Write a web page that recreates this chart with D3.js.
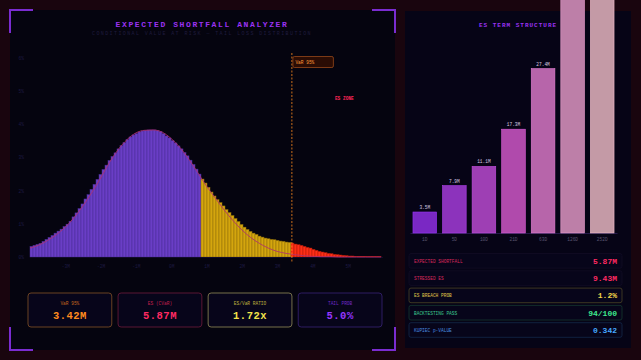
<!DOCTYPE html>
<html>
<head>
<meta charset="utf-8">
<script src="https://d3js.org/d3.v7.min.js"></script>
<style>
html,body{margin:0;padding:0;background:#19050e;overflow:hidden;}
svg{display:block;font-family:"Liberation Mono","DejaVu Sans Mono",monospace;}
</style>
</head>
<body>
<div id="chart"></div>
<script>
// loss distribution histogram ($M), bins start at -4.0, width 0.085
var binStart = -4.0;
var binWidth = 0.085;
var lossFreq = [
   0.32,0.35,0.38,0.41,0.47,0.53,0.59,0.65,0.72,0.78,
   0.84,0.92,0.99,1.08,1.21,1.33,1.46,1.60,1.75,1.88,
   2.04,2.19,2.34,2.49,2.64,2.77,2.91,3.03,3.14,3.26,
   3.36,3.45,3.54,3.62,3.68,3.72,3.77,3.80,3.82,3.83,
   3.83,3.83,3.81,3.78,3.72,3.65,3.59,3.51,3.44,3.35,
   3.26,3.15,3.05,2.92,2.79,2.65,2.50,2.35,2.23,2.10,
   1.96,1.84,1.73,1.64,1.54,1.43,1.34,1.25,1.16,1.07,
   0.98,0.90,0.83,0.77,0.72,0.68,0.63,0.60,0.57,0.55,
   0.53,0.52,0.50,0.48,0.47,0.45,0.44,0.42,0.39,0.37,
   0.35,0.32,0.29,0.27,0.23,0.20,0.17,0.15,0.13,0.11,
   0.10,0.08,0.07,0.06,0.05,0.04,0.03,0.03,0.02,0.02,
   0.02,0.02,0.01,0.01,0.01,0.01,0.01
];
// normal fit overlay
var fitLoss = [-4.0,-3.75,-3.5,-3.25,-3.0,-2.75,-2.5,-2.25,-2.0,-1.75,-1.5,-1.25,-1.0,-0.75,-0.5,-0.25,
   0.0,0.25,0.5,0.75,1.0,1.25,1.5,1.75,2.0,2.25,2.5,2.75,3.0,3.25,3.5,3.75,4.0,4.25,4.5,4.75,5.0,5.25,5.5,5.75,5.95];
var fitFreq = [0.27,0.36,0.50,0.68,0.90,1.19,1.54,1.94,2.38,2.85,3.24,3.54,3.74,3.82,3.83,3.76,
   3.57,3.30,2.95,2.55,2.14,1.78,1.42,1.10,0.82,0.59,0.41,0.27,0.17,0.11,0.07,0.04,0.02,0.01,0.01,0,0,0,0,0,0];
var varLevel = 3.42;
var warnLevel = 0.88;
var yTicks = [0,1,2,3,4,5,6];
var xTicks = [-3,-2,-1,0,1,2,3,4,5];

var kpiLabels = ["VaR 95%","ES (CVaR)","ES/VaR RATIO","TAIL PROB"];
var kpiValues = ["3.42M","5.87M","1.72x","5.0%"];

var horizons = ["1D","5D","10D","21D","63D","126D","252D"];
var esByHorizon = [3.5,7.9,11.1,17.3,27.4,39.3,55.6];

var statLabels = ["EXPECTED SHORTFALL","STRESSED ES","ES BREACH PROB","BACKTESTING PASS","KUPIEC p-VALUE"];
var statValues = ["5.87M","9.43M","1.2%","94/100","0.342"];

// styles
var kpiColors = ["#ff8a1e","#ff2a62","#f4e44a","#9636ff"];
var kpiBorders = ["#6a4222","#5a1634","#77704a","#2e1c62"];
var statColors = ["#ff2a62","#ff2a62","#f2d44a","#3ee88e","#46a8ff"];
var statLabelColors = ["#d8285a","#d8285a","#e0c64a","#3cc890","#4a8ee0"];
var statBorders = ["#120c24","#120c24","#4a4226","#15372f","#14284a"];

var W = 641, H = 360;
var svg = d3.select("#chart").append("svg").attr("width",W).attr("height",H);

// panels
svg.append("rect").attr("x",10).attr("y",10).attr("width",385).attr("height",340).attr("fill","#05040f");
svg.append("rect").attr("x",405).attr("y",11).attr("width",226).attr("height",337).attr("fill","#060416");

// corner brackets
var bracket = "#7a2cd0";
[[10,10,1,1],[395,10,-1,1],[10,350,1,-1],[395,350,-1,-1]].forEach(function(c){
   svg.append("path")
      .attr("d","M"+(c[0]+c[2]*23)+","+c[1]+" L"+c[0]+","+c[1]+" L"+c[0]+","+(c[1]+c[3]*23))
      .attr("fill","none").attr("stroke",bracket).attr("stroke-width",2);
});

// titles
svg.append("text").attr("x",202).attr("y",27).attr("text-anchor","middle")
   .attr("fill","#9a32f2").attr("font-size",8).attr("font-weight","bold").attr("letter-spacing",1.6)
   .text("EXPECTED SHORTFALL ANALYZER");
svg.append("text").attr("x",202).attr("y",35).attr("text-anchor","middle")
   .attr("fill","#1f1b3e").attr("font-size",5).attr("letter-spacing",1.4)
   .text("CONDITIONAL VALUE AT RISK — TAIL LOSS DISTRIBUTION");

// histogram scales
var xScale = d3.scaleLinear().domain([binStart, binStart+binWidth*lossFreq.length]).range([30,381]);
var yScale = d3.scaleLinear().domain([0,6]).range([257,58]);
var binPx = xScale(binStart+binWidth)-xScale(binStart);

var gHist = svg.append("g");
gHist.append("g").attr("transform","translate(27,0)")
   .call(d3.axisLeft(yScale).tickValues(yTicks).tickSize(0).tickFormat(function(d){return d+"%";}))
   .call(function(g){g.select(".domain").remove();})
   .selectAll("text").attr("fill","#1e1a44").attr("font-size",4.5).attr("font-family","Liberation Mono");
gHist.append("g").attr("transform","translate(0,262)")
   .call(d3.axisBottom(xScale).tickValues(xTicks).tickSize(0).tickFormat(function(d){return d+"M";}))
   .call(function(g){g.select(".domain").remove();})
   .selectAll("text").attr("fill","#1e1a44").attr("font-size",4.5).attr("font-family","Liberation Mono");

function binColor(i){
   var c = binStart + (i+0.5)*binWidth;
   if (c >= varLevel) return "#ff2e16";
   if (c >= warnLevel) return "#d4a60e";
   return "#6a3ec6";
}
function binStroke(i){
   var c = binStart + (i+0.5)*binWidth;
   if (c >= varLevel) return "#a81808";
   if (c >= warnLevel) return "#8a6a08";
   return "#4a2c92";
}
gHist.selectAll(".bin").data(lossFreq).enter()
   .append("rect").attr("class","bin")
   .attr("x",function(d,i){return xScale(binStart+i*binWidth);})
   .attr("y",function(d){return yScale(d);})
   .attr("width",binPx)
   .attr("height",function(d){return yScale(0)-yScale(d);})
   .attr("fill",function(d,i){return binColor(i);})
   .attr("stroke",function(d,i){return binStroke(i);})
   .attr("stroke-width",0.5);

// baseline
gHist.append("line").attr("x1",30).attr("x2",383).attr("y1",257.5).attr("y2",257.5)
   .attr("stroke","#120c2a").attr("stroke-width",1);

// normal fit
var fitLine = d3.line()
   .x(function(d,i){return xScale(fitLoss[i]);})
   .y(function(d){return yScale(d);})
   .curve(d3.curveMonotoneX);
gHist.append("path").attr("d",fitLine(fitFreq))
   .attr("fill","none").attr("stroke","#b0306e").attr("stroke-opacity",0.85).attr("stroke-width",1);

// VaR marker
var vx = xScale(varLevel);
gHist.append("line").attr("x1",vx).attr("x2",vx).attr("y1",53).attr("y2",262)
   .attr("stroke","#ff8a1e").attr("stroke-width",0.8).attr("stroke-dasharray","2,1.5");
gHist.append("rect").attr("x",vx+1).attr("y",56.5).attr("width",40.5).attr("height",11).attr("rx",1.5)
   .attr("fill","#2a0c04").attr("stroke","#a8501c").attr("stroke-width",0.7);
gHist.append("text").attr("x",vx+3.5).attr("y",63.8).attr("fill","#ff9a3a")
   .attr("font-size",4.5).text("VaR 95%");
gHist.append("text").attr("x",vx+43).attr("y",100).attr("fill","#ff2456")
   .attr("font-size",4.5).attr("font-weight","bold").text("ES ZONE");

// KPI cards
var cardX = d3.scaleBand().domain(kpiLabels).range([28,382]).paddingInner(0.07);
var cards = svg.selectAll(".kpi").data(kpiLabels).enter().append("g").attr("class","kpi")
   .attr("transform",function(d){return "translate("+cardX(d)+",293)";});
cards.append("rect").attr("width",cardX.bandwidth()).attr("height",34).attr("rx",3)
   .attr("fill","#07051a").attr("stroke",function(d,i){return kpiBorders[i];}).attr("stroke-width",1);
cards.append("text").attr("x",cardX.bandwidth()/2).attr("y",11.5).attr("text-anchor","middle")
   .attr("font-size",4.5).attr("fill",function(d,i){return kpiColors[i];}).attr("fill-opacity",0.75)
   .text(function(d){return d;});
cards.append("text").attr("x",cardX.bandwidth()/2).attr("y",26).attr("text-anchor","middle")
   .attr("font-size",10.5).attr("font-weight","bold").attr("letter-spacing",0.5)
   .attr("fill",function(d,i){return kpiColors[i];})
   .text(function(d,i){return kpiValues[i];});

// ES term structure
svg.append("text").attr("x",518).attr("y",27).attr("text-anchor","middle")
   .attr("fill","#9a32f2").attr("font-size",6).attr("font-weight","bold").attr("letter-spacing",1)
   .text("ES TERM STRUCTURE");

var hx = d3.scaleBand().domain(horizons).range([410,617]).paddingInner(0.2).paddingOuter(0.1);
var hy = d3.scaleLinear().domain([0,35]).range([233,23]);
var barColor = d3.scaleLinear().domain([0,3,6]).range(["#7a28c4","#b04aac","#c49aa6"]);

svg.append("g").attr("transform","translate(0,233)")
   .call(d3.axisBottom(hx).tickSize(0).tickPadding(5))
   .call(function(g){g.select(".domain").attr("stroke","#241a4a");})
   .selectAll("text").attr("fill","#5a5470").attr("font-size",4.5).attr("font-family","Liberation Mono");

svg.selectAll(".hbar").data(esByHorizon).enter()
   .append("rect").attr("class","hbar")
   .attr("x",function(d,i){return hx(horizons[i]);})
   .attr("y",function(d){return hy(d);})
   .attr("width",hx.bandwidth())
   .attr("height",function(d){return hy(0)-hy(d);})
   .attr("fill",function(d,i){return barColor(i);})
   .attr("stroke",function(d,i){return d3.color(barColor(i)).brighter(0.6);})
   .attr("stroke-width",0.6);
// value labels (the tallest bars run past the top edge, their labels with them)
svg.selectAll(".hlabel").data(esByHorizon.filter(function(d){return hy(d)-3 > 8;})).enter()
   .append("text").attr("class","hlabel")
   .attr("x",function(d,i){return hx(horizons[i])+hx.bandwidth()/2;})
   .attr("y",function(d){return hy(d)-3;})
   .attr("text-anchor","middle").attr("font-size",4.5).attr("fill","#d8c8e0")
   .text(function(d){return d.toFixed(1)+"M";});

// stats table
var rows = svg.selectAll(".stat").data(statLabels).enter().append("g").attr("class","stat")
   .attr("transform",function(d,i){return "translate(409,"+(253.5+i*17.3)+")";});
rows.append("rect").attr("width",213).attr("height",14.6).attr("rx",2)
   .attr("fill","#07051a").attr("stroke",function(d,i){return statBorders[i];}).attr("stroke-width",0.8);
rows.append("text").attr("x",5).attr("y",9.3).attr("font-size",4.5)
   .attr("fill",function(d,i){return statLabelColors[i];})
   .text(function(d){return d;});
rows.append("text").attr("x",208).attr("y",10.3).attr("text-anchor","end")
   .attr("font-size",8).attr("font-weight","bold")
   .attr("fill",function(d,i){return statColors[i];})
   .text(function(d,i){return statValues[i];});
</script>
</body>
</html>
